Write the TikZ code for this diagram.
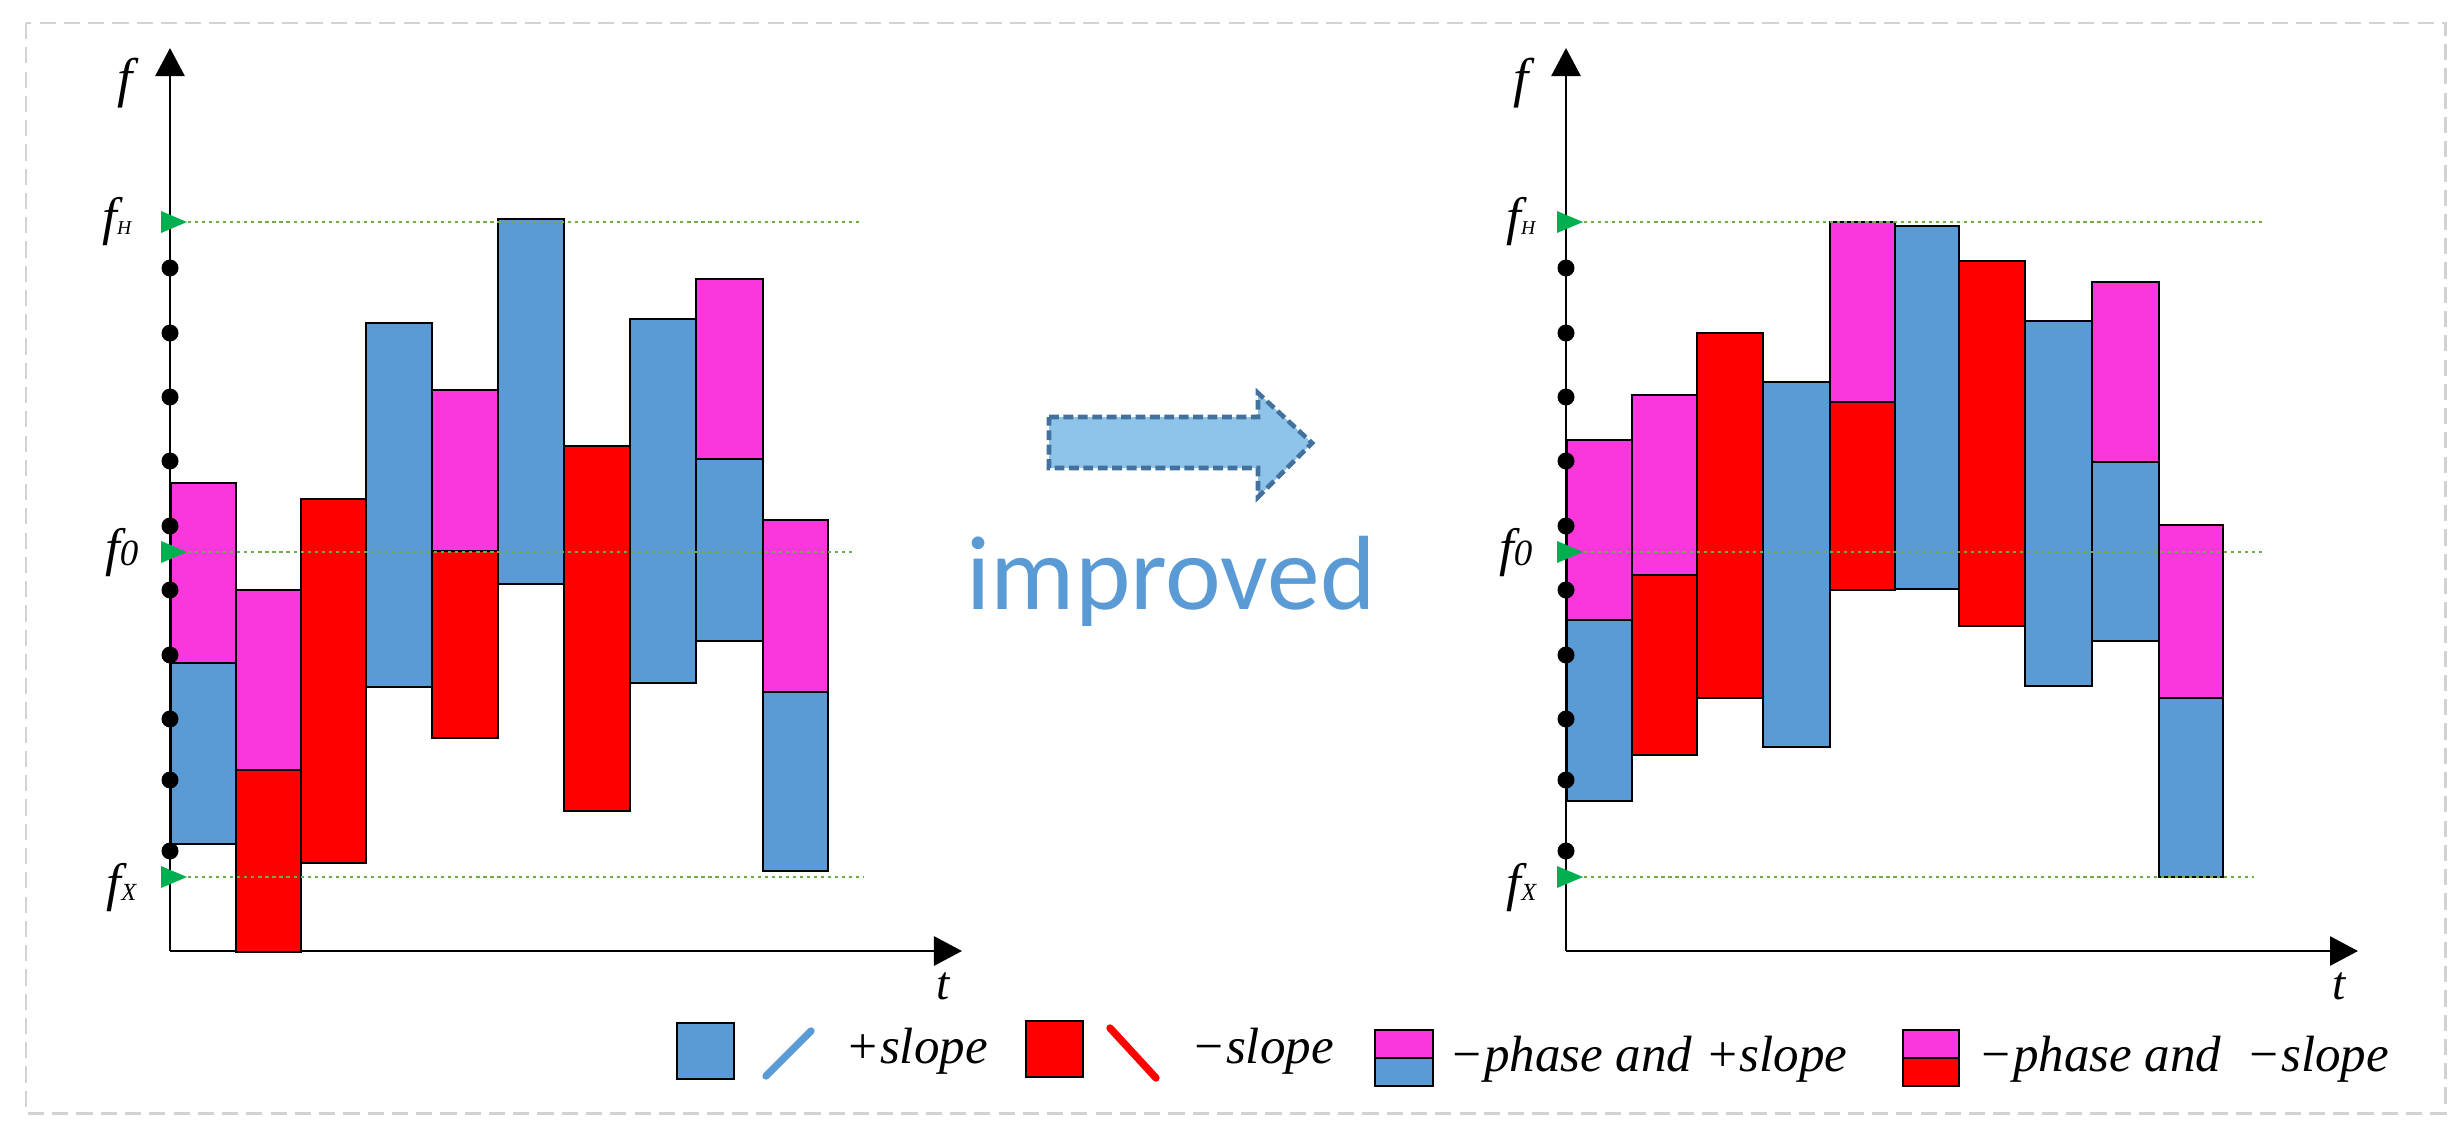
\documentclass[tikz,border=0pt]{standalone}
\usepackage{fontspec}
\setmainfont{Liberation Serif}
\newfontfamily\califont{Carlito}
\usetikzlibrary{arrows.meta}
\definecolor{cblue}{HTML}{5B9BD5}
\definecolor{cred}{HTML}{FF0000}
\definecolor{cmag}{HTML}{FA37DC}
\definecolor{cgreen}{HTML}{00B050}
\definecolor{cdotline}{HTML}{70AD47}
\definecolor{arrfill}{HTML}{8EC4EA}
\definecolor{arrline}{HTML}{41719C}
\definecolor{bordergray}{HTML}{D2D2D2}
\newcommand\barseg[5]{\draw[segline, fill=#5] (#1,#3) rectangle (#2,#4);}
\begin{document}
\begin{tikzpicture}[x=0.01cm,y=-0.01cm,
  segline/.style={draw=black, line width=0.7pt},
  axisline/.style={black, line width=0.8pt, -{Triangle[length=0.28cm,width=0.29cm]}},
  levelline/.style={cdotline, line width=0.7pt, dash pattern=on 0.9pt off 1.1pt},
  axdot/.style={fill=black},
  flab/.style={inner sep=0, anchor=base east, font=\fontsize{15}{18}\selectfont\itshape},
  tlab/.style={inner sep=0, anchor=base, font=\fontsize{13.5}{16}\selectfont\itshape},
  legtext/.style={inner sep=0, anchor=base west, font=\fontsize{14.5}{17}\selectfont\itshape},
  legline/.style={line width=2.1pt, line cap=round}]
\useasboundingbox (0,0) rectangle (2460,1139);
\fill[white] (0,0) rectangle (2460,1139);
% outer dashed border
\draw[bordergray, line width=0.85pt, dash pattern=on 4.6pt off 2.3pt] (26,23) rectangle (2445,1113);

% ---------- left chart ----------
\draw[axisline] (170,951) -- (170,48);
\draw[axisline] (170,951) -- (962,951);
\barseg{171}{236}{483}{663}{cmag}
\barseg{171}{236}{663}{844}{cblue}
\barseg{236}{301}{590}{770}{cmag}
\barseg{236}{301}{770}{952}{cred}
\barseg{301}{366}{499}{863}{cred}
\barseg{366}{432}{323}{687}{cblue}
\barseg{432}{498}{390}{551}{cmag}
\barseg{432}{498}{551}{738}{cred}
\barseg{498}{564}{219}{584}{cblue}
\barseg{564}{630}{446}{811}{cred}
\barseg{630}{696}{319}{683}{cblue}
\barseg{696}{763}{279}{459}{cmag}
\barseg{696}{763}{459}{641}{cblue}
\barseg{763}{828}{520}{692}{cmag}
\barseg{763}{828}{692}{871}{cblue}
\draw[levelline] (188,222) -- (859,222);
\draw[levelline] (188,552) -- (855,552);
\draw[levelline] (188,877) -- (864,877);
\foreach \yy in {268,333,397,461,526,590,655,719,780,851}
  \fill[axdot] (170,\yy) circle[radius=8.5];
\foreach \yy in {222,552,877}
  \fill[cgreen] (161,\yy-11) -- (187,\yy) -- (161,\yy+11) -- cycle;
\node[inner sep=0, anchor=base, font=\fontsize{15.5}{18}\selectfont\itshape] (fL) at (125,96) {f};
\node[flab] (fHL) at (132,234) {f\fontsize{5.6}{6}\selectfont H};
\node[flab] (f0L) at (139,565) {f\fontsize{10.5}{12}\selectfont 0};
\node[flab] (fXL) at (137,900) {f\fontsize{7}{8}\selectfont X};
\node[tlab] (tL) at (943,999) {t};

% ---------- right chart ----------
\begin{scope}[shift={(1396,0)}]
\draw[axisline] (170,951) -- (170,48);
\draw[axisline] (170,951) -- (962,951);
\end{scope}
\barseg{1567}{1632}{440}{620}{cmag}
\barseg{1567}{1632}{620}{801}{cblue}
\barseg{1632}{1697}{395}{575}{cmag}
\barseg{1632}{1697}{575}{755}{cred}
\barseg{1697}{1763}{333}{698}{cred}
\barseg{1763}{1830}{382}{747}{cblue}
\barseg{1830}{1895}{222}{402}{cmag}
\barseg{1830}{1895}{402}{590}{cred}
\barseg{1895}{1959}{226}{589}{cblue}
\barseg{1959}{2025}{261}{626}{cred}
\barseg{2025}{2092}{321}{686}{cblue}
\barseg{2092}{2159}{282}{462}{cmag}
\barseg{2092}{2159}{462}{641}{cblue}
\barseg{2159}{2223}{525}{698}{cmag}
\barseg{2159}{2223}{698}{877}{cblue}
\begin{scope}[shift={(1396,0)}]
\draw[levelline] (188,222) -- (867,222);
\draw[levelline] (188,552) -- (869,552);
\draw[levelline] (188,877) -- (858,877);
\foreach \yy in {268,333,397,461,526,590,655,719,780,851}
  \fill[axdot] (170,\yy) circle[radius=8.5];
\foreach \yy in {222,552,877}
  \fill[cgreen] (161,\yy-11) -- (187,\yy) -- (161,\yy+11) -- cycle;
\node[inner sep=0, anchor=base, font=\fontsize{15.5}{18}\selectfont\itshape] (fR) at (125,96) {f};
\node[flab] (fHR) at (140,234) {f\fontsize{5.6}{6}\selectfont H};
\node[flab] (f0R) at (137,565) {f\fontsize{10.5}{12}\selectfont 0};
\node[flab] (fXR) at (141,900) {f\fontsize{7}{8}\selectfont X};
\node[tlab] (tR) at (943,999) {t};
\end{scope}

% ---------- improved arrow ----------
\draw[fill=arrfill, draw=arrline, line width=1.3pt, dash pattern=on 2.8pt off 1.3pt]
  (1049,417) -- (1258,417) -- (1258,393) -- (1312,443) -- (1258,497) -- (1258,468) -- (1049,468) -- cycle;
\node[inner sep=0, anchor=base west, text=cblue, font=\califont\fontsize{30}{35}\selectfont] (imp) at (966,609) {improved};

% ---------- legend ----------
\draw[segline, fill=cblue] (677,1023) rectangle (734,1079);
\draw[legline, cblue] (766,1076) -- (811,1031);
\node[legtext] (lg1) at (845,1063) {+slope};
\draw[segline, fill=cred] (1026,1021) rectangle (1083,1077);
\draw[legline, cred] (1110,1028) -- (1156,1078);
\node[legtext] (lg2) at (1191,1063) {−slope};
\draw[segline, fill=cmag] (1375,1030) rectangle (1433,1058);
\draw[segline, fill=cblue] (1375,1058) rectangle (1433,1086);
\node[legtext] (lg3) at (1449,1071) {−phase and +slope};
\draw[segline, fill=cmag] (1903,1030) rectangle (1959,1058);
\draw[segline, fill=cred] (1903,1058) rectangle (1959,1086);
\node[legtext] (lg4) at (1978,1071) {−phase and\ \ −slope};
\end{tikzpicture}
\end{document}
